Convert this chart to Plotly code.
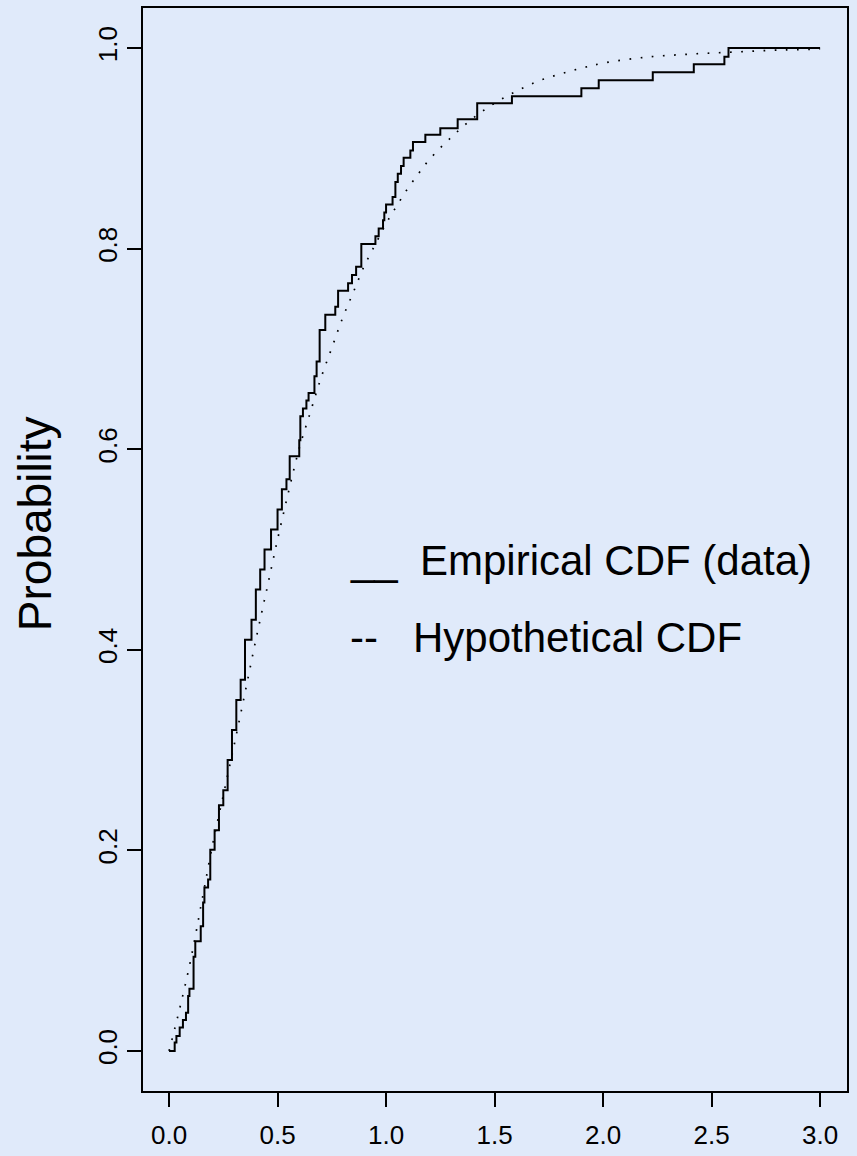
import plotly.graph_objects as go

# ---- data ----
# Empirical CDF: jump locations and the level reached after each jump
ecdf_x = [0.026, 0.034, 0.049, 0.064, 0.078, 0.088, 0.094, 0.113, 0.121, 0.146,
          0.157, 0.163, 0.180, 0.190, 0.21, 0.23, 0.25, 0.27, 0.29, 0.31,
          0.33, 0.35, 0.38, 0.40, 0.42, 0.44, 0.47, 0.50, 0.52, 0.541,
          0.556, 0.600, 0.605, 0.617, 0.633, 0.643, 0.670, 0.680, 0.694, 0.720,
          0.766, 0.779, 0.825, 0.843, 0.862, 0.886, 0.951, 0.966, 0.986, 0.992,
          1.000, 1.030, 1.043, 1.054, 1.069, 1.081, 1.112, 1.124, 1.181, 1.25,
          1.33, 1.42, 1.58, 1.90, 1.98, 2.229, 2.418, 2.559, 2.578]
ecdf_y = [0.0083, 0.0149, 0.0232, 0.0308, 0.0381, 0.0547, 0.062, 0.0938, 0.1093, 0.1243,
          0.148, 0.163, 0.171, 0.2005, 0.22, 0.245, 0.26, 0.29, 0.32, 0.35,
          0.37, 0.41, 0.43, 0.46, 0.48, 0.50, 0.52, 0.54, 0.56, 0.570,
          0.593, 0.609, 0.633, 0.6405, 0.6485, 0.656, 0.6727, 0.6876, 0.719, 0.734,
          0.742, 0.758, 0.7654, 0.7737, 0.782, 0.8046, 0.8125, 0.820, 0.8284, 0.836,
          0.844, 0.8516, 0.8665, 0.8748, 0.8824, 0.8907, 0.898, 0.9063, 0.9135, 0.92,
          0.929, 0.945, 0.952, 0.960, 0.968, 0.9759, 0.984, 0.9913, 1.0]

# Hypothetical CDF (dotted curve) read at these x values
hyp_x = [0.0, 0.05, 0.1, 0.15, 0.2, 0.25, 0.3, 0.35, 0.4, 0.45, 0.5, 0.55, 0.6, 0.65,
         0.7, 0.75, 0.8, 0.85, 0.9, 0.95, 1.0, 1.05, 1.1, 1.15, 1.2, 1.3, 1.4, 1.5,
         1.6, 1.7, 1.8, 1.9, 2.0, 2.2, 2.4, 2.6, 2.8, 3.0]
hyp_y = [0.0, 0.043, 0.091, 0.148, 0.205, 0.255, 0.305, 0.357, 0.41, 0.46, 0.51, 0.557,
         0.601, 0.636, 0.671, 0.701, 0.731, 0.757, 0.783, 0.804, 0.825, 0.843, 0.860,
         0.875, 0.889, 0.911, 0.930, 0.945, 0.957, 0.967, 0.974, 0.980, 0.985, 0.991,
         0.994, 0.996, 0.998, 0.999]

x_start, x_end = 0.0, 3.0
x_ticks = [0.0, 0.5, 1.0, 1.5, 2.0, 2.5, 3.0]
x_tick_text = ["0.0", "0.5", "1.0", "1.5", "2.0", "2.5", "3.0"]
y_ticks = [0.0, 0.2, 0.4, 0.6, 0.8, 1.0]
y_tick_text = ["0.0", "0.2", "0.4", "0.6", "0.8", "1.0"]
y_title = "Probability"
legend_labels = ["Empirical CDF (data)", "Hypothetical CDF"]
legend_marks = ["__", "--"]

# ---- figure ----
W, H = 857, 1156
L, R, T, B = 142.7, 10.3, 5.7, 64.3
BG = "rgb(224,234,250)"
FONT = "Liberation Sans, Arial, sans-serif"

step_x = [x_start] + ecdf_x + [x_end]
step_y = [0.0] + ecdf_y + [ecdf_y[-1]]

fig = go.Figure()
fig.add_trace(go.Scatter(x=hyp_x, y=hyp_y, mode="lines",
                         line=dict(color="black", width=1.7, dash="1.7px,9.5px"),
                         line_shape="spline", hoverinfo="skip"))
fig.add_trace(go.Scatter(x=step_x, y=step_y, mode="lines", line_shape="hv",
                         line=dict(color="black", width=2), hoverinfo="skip"))

pw = W - L - R
ph = H - T - B


def px_x(p):
    return (p - L) / pw


def px_y(p):
    return (H - B - p) / ph


fig.update_layout(
    width=W, height=H,
    margin=dict(l=L, r=R, t=T, b=B, pad=0),
    paper_bgcolor=BG, plot_bgcolor=BG,
    showlegend=False,
    font=dict(family=FONT, color="black"),
    xaxis=dict(range=[-0.12, 3.124], tickvals=x_ticks, ticktext=x_tick_text,
               showgrid=False, zeroline=False, showline=True, mirror=True,
               linecolor="black", linewidth=2, ticks="outside", ticklen=14,
               tickwidth=2, tickcolor="black", tickfont=dict(size=26, family=FONT),
               ticklabelstandoff=6),
    yaxis=dict(range=[-0.04, 1.04], tickvals=y_ticks, ticktext=y_tick_text,
               showgrid=False, zeroline=False, showline=True, mirror=True,
               linecolor="black", linewidth=2, ticks="outside", ticklen=14,
               tickwidth=2, tickcolor="black", tickfont=dict(size=26, family=FONT),
               tickangle=-90, ticklabelstandoff=0),
)

ann = dict(showarrow=False, xref="paper", yref="paper", borderpad=0, borderwidth=0)
fig.add_annotation(text=y_title, x=px_x(35), y=px_y(523), textangle=-90,
                   xanchor="center", yanchor="middle",
                   font=dict(size=46, family=FONT, color="black"), **ann)
leg_y = [560, 637]
leg_text_x = [419.7, 412.7]
for i in range(2):
    fig.add_annotation(text=legend_marks[i], x=px_x(350), y=px_y(leg_y[i]),
                       xanchor="left", yanchor="middle",
                       font=dict(size=42, family=FONT, color="black"), **ann)
    fig.add_annotation(text=legend_labels[i], x=px_x(leg_text_x[i]), y=px_y(leg_y[i]),
                       xanchor="left", yanchor="middle",
                       font=dict(size=42, family=FONT, color="black"), **ann)

fig.write_html("out.html", config={"displayModeBar": False})
